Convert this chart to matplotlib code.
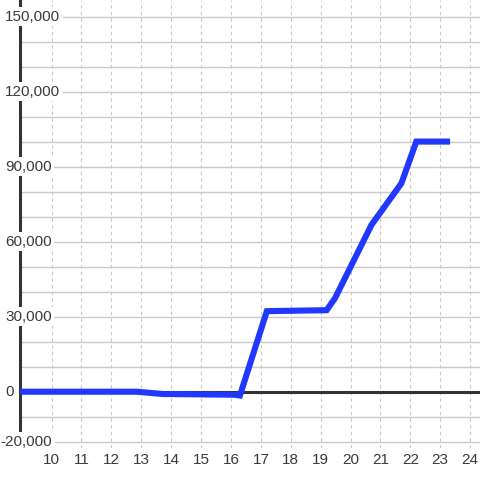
import matplotlib
matplotlib.use('Agg')
import matplotlib.pyplot as plt
import matplotlib.transforms as mtransforms

# Data
hours = [8.88, 12.85, 13.7, 16.1, 16.3, 17.2, 19.2, 19.48, 20.7, 21.7, 22.2, 23.33]
values = [0, 0, -900, -1200, -1500, 32200, 32600, 37400, 66700, 83300, 100000, 100000]
x_ticks = list(range(10, 25))
y_labels = [-20000, 0, 30000, 60000, 90000, 120000, 150000]
y_grid = list(range(-20000, 150001, 10000))

plt.rcParams['font.family'] = ['Liberation Sans', 'DejaVu Sans']
text_color = '#3a3a3a'
font_size = 11

fig = plt.figure(figsize=(4.8, 4.8), dpi=100, facecolor='white')
ax = fig.add_axes([20 / 480, 32 / 480, 460 / 480, 448 / 480])
ax.set_xlim(8.943, 24.33)
ax.set_ylim(-22500, 156600)

# gridlines
for v in y_grid:
    ax.axhline(v, color='#cbcbcb', linewidth=1.0, zorder=1)
for h in x_ticks:
    ax.axvline(h, color='#c8c8c8', linewidth=0.8, linestyle=(0, (3, 3)), zorder=1)

# zero line
ax.axhline(0, color='#333333', linewidth=2.2, zorder=3)

# the series
ax.plot(hours, values, color='#2138ff', linewidth=4.4, solid_capstyle='butt',
        solid_joinstyle='miter', zorder=4)

# spines: only left one, thick
for s in ['top', 'bottom', 'right']:
    ax.spines[s].set_visible(False)
ax.spines['left'].set_color('#333333')
ax.spines['left'].set_linewidth(2.2)
ax.spines['left'].set_zorder(3)

# x ticks below the plot
ax.set_xticks(x_ticks)
ax.set_xticklabels([str(t) for t in x_ticks], color=text_color, fontsize=font_size)
ax.tick_params(axis='x', length=0, pad=3.5)

# y labels drawn inside the plot over the spine, minus sign hangs to the left
ax.set_yticks([])
trans = mtransforms.blended_transform_factory(ax.transAxes, ax.transData)
for v in y_labels:
    x_px = 5 if v >= 0 else 0.5
    ax.text((x_px - 20) / 460, v, f'{v:,}', transform=trans, ha='left', va='center',
            fontsize=font_size, color=text_color, clip_on=False, zorder=10,
            bbox=dict(facecolor='white', edgecolor='none', pad=2.0))

fig.savefig('out.png', dpi=100, facecolor='white')
